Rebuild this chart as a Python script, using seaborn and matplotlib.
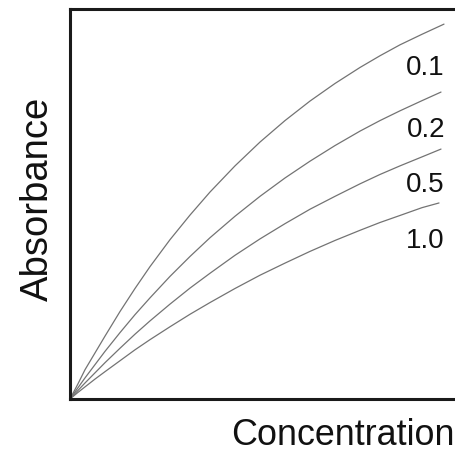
import matplotlib
matplotlib.use("Agg")
import matplotlib.pyplot as plt
import pandas as pd
import seaborn as sns

sns.set_style("white")
plt.rcParams['font.family'] = ['Liberation Sans', 'DejaVu Sans']

# curve values (arbitrary units, axes run 0..1)
conc = [0, 0.02, 0.0375, 0.0625, 0.0875, 0.125, 0.1625, 0.2, 0.25, 0.3, 0.35,
        0.4125, 0.475, 0.5375, 0.6, 0.6625, 0.725, 0.775, 0.825, 0.88]
conc_end = {'0.1': 0.935, '0.2': 0.9275, '0.5': 0.9275, '1.0': 0.9225}
absorb = {
    '0.1': [0, 0.039, 0.075, 0.118, 0.161, 0.224, 0.283, 0.339, 0.408, 0.471, 0.530,
            0.597, 0.658, 0.713, 0.763, 0.808, 0.849, 0.879, 0.907, 0.934, 0.960],
    '0.2': [0, 0.029, 0.054, 0.088, 0.122, 0.170, 0.216, 0.259, 0.314, 0.365, 0.413,
            0.468, 0.519, 0.566, 0.609, 0.649, 0.686, 0.713, 0.738, 0.764, 0.786],
    '0.5': [0, 0.022, 0.041, 0.067, 0.093, 0.130, 0.166, 0.200, 0.243, 0.284, 0.322,
            0.368, 0.410, 0.449, 0.486, 0.519, 0.551, 0.575, 0.597, 0.620, 0.640],
    '1.0': [0, 0.017, 0.031, 0.051, 0.070, 0.098, 0.126, 0.152, 0.185, 0.217, 0.247,
            0.283, 0.317, 0.348, 0.378, 0.406, 0.432, 0.452, 0.470, 0.490, 0.502],
}
labels = ['0.1', '0.2', '0.5', '1.0']
label_y = [0.830, 0.671, 0.530, 0.387]

rows = []
for lab in labels:
    xs = conc + [conc_end[lab]]
    for x, y in zip(xs, absorb[lab]):
        rows.append({'conc': x, 'abs': y, 'series': lab})
df = pd.DataFrame(rows)

fig = plt.figure(figsize=(4.56, 4.58), dpi=100)
ax = fig.add_axes([70 / 456, 59 / 458, 400 / 456, 390.5 / 458])

sns.lineplot(data=df, x='conc', y='abs', hue='series', palette=['#737373'] * 4,
             estimator=None, sort=False, legend=False, linewidth=0.9, ax=ax)

for lab, y in zip(labels, label_y):
    ax.text(0.9375, y, lab, ha='right', va='baseline', fontsize=20, color='#111111')

ax.set_xlim(0, 1)
ax.set_ylim(0, 1)
ax.set_xticks([])
ax.set_yticks([])
for side in ['left', 'bottom', 'top', 'right']:
    ax.spines[side].set_linewidth(2.2)
    ax.spines[side].set_color('#1a1a1a')

ax.set_xlabel('Concentration', fontsize=25.8, ha='left', va='baseline', color='#111111')
ax.xaxis.set_label_coords(0.403, -0.1178)
ax.set_ylabel('Absorbance', fontsize=27.5, ha='center', va='baseline', color='#111111')
ax.yaxis.set_label_coords(-0.055, 0.512)

fig.savefig('out.png', dpi=100)
